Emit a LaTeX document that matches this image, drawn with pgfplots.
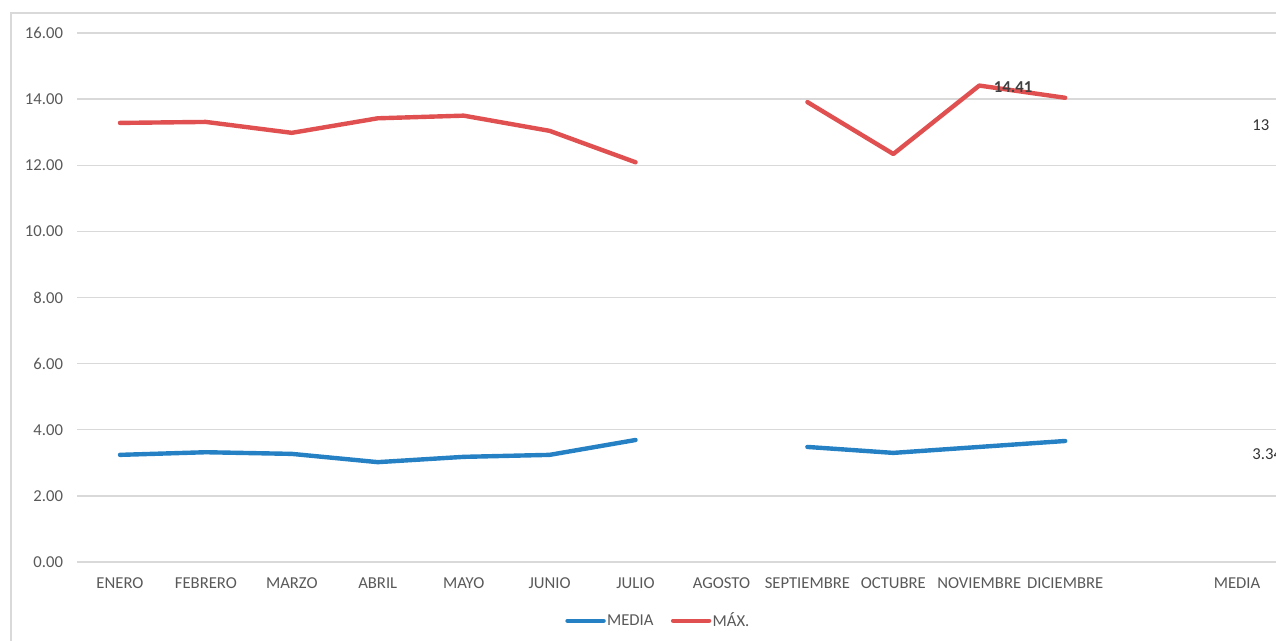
\documentclass[border=0pt]{standalone}
\usepackage{pgfplots}
\pgfplotsset{compat=1.18}
\usepackage{fontspec}
\setmainfont{Carlito}
\definecolor{serblue}{RGB}{38,128,196}
\definecolor{serred}{RGB}{224,80,80}
\definecolor{gridgray}{RGB}{217,217,217}
\definecolor{txtgray}{RGB}{89,89,89}
\begin{document}
\begin{tikzpicture}
\useasboundingbox (0,0) rectangle (957pt,480.75pt);
\clip (0,0) rectangle (957pt,480.75pt);
\draw[gridgray, line width=1pt] (8.25pt,-20pt) rectangle (990pt,471pt);
\begin{axis}[
  at={(57.75pt,59.25pt)}, anchor=south west,
  scale only axis, width=902.25pt, height=396.75pt,
  xmin=-0.5, xmax=13.5, ymin=0, ymax=16,
  axis line style={draw=none},
  xtick={0,...,11,13},
  xticklabels={ENERO,FEBRERO,MARZO,ABRIL,MAYO,JUNIO,JULIO,AGOSTO,SEPTIEMBRE,OCTUBRE,NOVIEMBRE,DICIEMBRE,MEDIA},
  ytick={0,2,...,16},
  ymajorgrids, grid style={gridgray, line width=1pt},
  major tick length=0pt,
  tick label style={font=\fontsize{12.5pt}{14pt}\selectfont, text=txtgray},
  /pgf/number format/.cd, fixed, fixed zerofill, precision=2, assume math mode=true, /pgfplots/.cd,
  xticklabel style={yshift=-8pt},
  yticklabel style={xshift=-7pt},
  unbounded coords=jump,
  clip=false,
  legend style={at={(0.483,-0.111)}, anchor=center, draw=none, fill=none,
    legend columns=2, font=\fontsize{12.5pt}{14pt}\selectfont, text=txtgray,
    /tikz/every even column/.append style={column sep=12pt},
    inner sep=0pt, nodes={inner sep=1pt}},
  legend image code/.code={\draw[#1, line cap=round] (0pt,0pt) -- (27pt,0pt);},
]
\addplot[serblue, line width=3.3pt, line cap=round, line join=round] coordinates {
(0,3.24) (1,3.32) (2,3.27) (3,3.02) (4,3.18) (5,3.24) (6,3.69) (7,nan) (8,3.48) (9,3.30) (10,3.48) (11,3.66)
};
\addlegendentry{MEDIA}
\addplot[serred, line width=3.3pt, line cap=round, line join=round] coordinates {
(0,13.28) (1,13.31) (2,12.98) (3,13.42) (4,13.50) (5,13.04) (6,12.09) (7,nan) (8,13.91) (9,12.34) (10,14.41) (11,14.04)
};
\addlegendentry{MÁX.}
\addplot[draw=none, mark=none, forget plot, point meta=explicit symbolic,
  nodes near coords, nodes near coords style={anchor=west, xshift=8pt, yshift=-1.5pt, font=\fontsize{12.5pt}{14pt}\selectfont, text=black!80}]
  coordinates {(13,13.28) [13] (13,3.33) [3.34]};
\addplot[draw=none, mark=none, forget plot, point meta=explicit symbolic,
  nodes near coords, nodes near coords style={anchor=west, xshift=7.5pt, yshift=-1.5pt, font=\bfseries\fontsize{12.5pt}{14pt}\selectfont, text=black!75}]
  coordinates {(10,14.41) [14.41]};
\end{axis}
\end{tikzpicture}
\end{document}
